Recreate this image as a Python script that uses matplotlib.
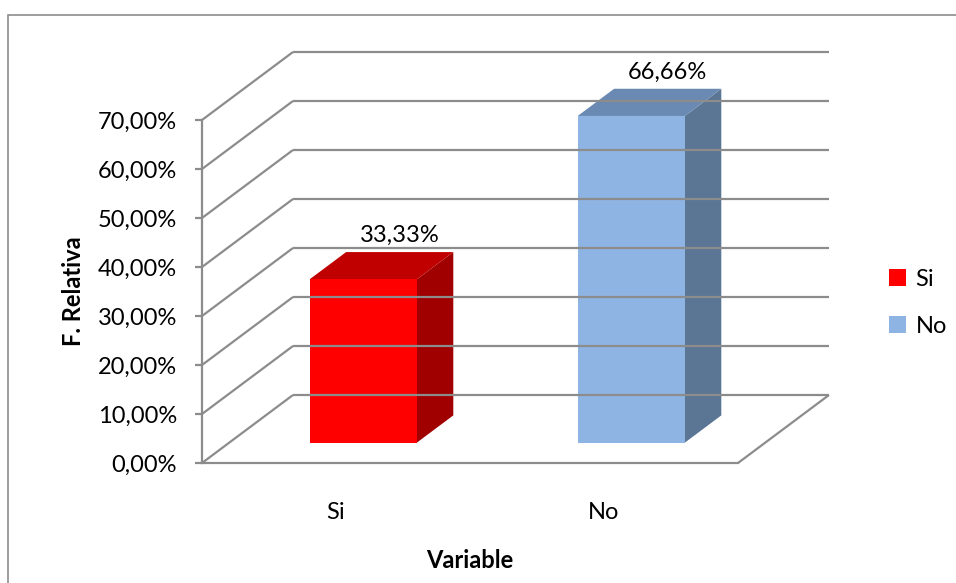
import matplotlib
matplotlib.use('Agg')
import matplotlib.pyplot as plt
from matplotlib.patches import Polygon, Patch, Rectangle

# Data
categories = ['Si', 'No']
values = [0.3333, 0.6666]
value_labels = ['33,33%', '66,66%']
y_ticks = [0.0, 0.1, 0.2, 0.3, 0.4, 0.5, 0.6, 0.7]
y_tick_labels = ['0,00%', '10,00%', '20,00%', '30,00%', '40,00%', '50,00%', '60,00%', '70,00%']

# Styles
front_colors = ['#FF0000', '#8EB4E3']
top_colors = ['#C00000', '#6A8AB3']
side_colors = ['#A00000', '#5B7595']
grid_color = '#8C8C8C'
font = 'Lato'
fs = 17

DPI = 100
W, H = 956, 583
DEPTH_PX = (91, 68)       # wall depth offset in pixels (right, up)
BAR_DEPTH = (0.3, 0.7)    # bar front/back as fraction of wall depth
BAR_WIDTH = 0.4

plt.rcParams['font.family'] = [font, 'DejaVu Sans']

fig = plt.figure(figsize=(W / DPI, H / DPI), dpi=DPI)
ax = fig.add_axes([202 / W, (H - 463) / H, 536 / W, 343 / H])
ax.set_xlim(0, len(categories))
ax.set_ylim(0, 0.7)

# depth offsets converted to data units
px_x = 536 / len(categories)
px_y = 343 / 0.7
ddx = DEPTH_PX[0] / px_x
ddy = DEPTH_PX[1] / px_y


def project(x, v, d):
    return (x + d * ddx, v + d * ddy)


def line(p0, p1, **kw):
    ax.plot([p0[0], p1[0]], [p0[1], p1[1]], color=grid_color, lw=1.6,
            solid_capstyle='butt', clip_on=False, **kw)


n = len(categories)
# back wall gridlines and left wall diagonals
for v in y_ticks:
    line(project(0, v, 1), project(n, v, 1))
    line(project(0, v, 0), project(0, v, 1))
# floor right edge
line(project(n, 0, 0), project(n, 0, 1))

# bars
for i, (cat, val) in enumerate(zip(categories, values)):
    x0 = i + 0.5 - BAR_WIDTH / 2
    x1 = i + 0.5 + BAR_WIDTH / 2
    d0, d1 = BAR_DEPTH
    front = [project(x0, 0, d0), project(x1, 0, d0), project(x1, val, d0), project(x0, val, d0)]
    side = [project(x1, 0, d0), project(x1, 0, d1), project(x1, val, d1), project(x1, val, d0)]
    top = [project(x0, val, d0), project(x1, val, d0), project(x1, val, d1), project(x0, val, d1)]
    for pts, col in [(side, side_colors[i]), (top, top_colors[i]), (front, front_colors[i])]:
        ax.add_patch(Polygon(pts, closed=True, facecolor=col, edgecolor='none', clip_on=False))
    lx, ly = project(i + 0.5, val, d1)
    ax.annotate(value_labels[i], (lx, ly), xytext=(0, 12), textcoords='offset points',
                ha='center', va='center', fontsize=fs, color='black', annotation_clip=False)

# axes
for s in ['top', 'right']:
    ax.spines[s].set_visible(False)
for s in ['left', 'bottom']:
    ax.spines[s].set_color(grid_color)
    ax.spines[s].set_linewidth(1.6)
ax.set_yticks(y_ticks)
ax.set_yticklabels(y_tick_labels)
ax.tick_params(axis='y', length=5, width=1.6, color=grid_color, pad=13, labelsize=fs)
ax.set_xticks([i + 0.5 for i in range(n)])
ax.set_xticklabels(categories)
ax.tick_params(axis='x', length=0, pad=28, labelsize=fs)
ax.set_xlabel('Variable', fontsize=fs, fontweight='bold', labelpad=19)
ax.set_ylabel('F. Relativa', fontsize=fs, fontweight='bold', labelpad=9)
ax.patch.set_visible(False)

# legend
handles = [Patch(facecolor=c, edgecolor='none') for c in front_colors]
fig.legend(handles, categories, loc='center left', bbox_to_anchor=(880 / W, 1 - 303 / H),
           frameon=False, fontsize=fs, handlelength=0.7, handleheight=0.7,
           handletextpad=0.4, labelspacing=1.1, borderaxespad=0)

# chart border
fig.patches.append(Rectangle((8 / W, -0.02), 1.1, 1 - 15 / H + 0.02, transform=fig.transFigure,
                             fill=False, edgecolor='#8C8C8C', lw=1.2))

fig.savefig('out.png', dpi=DPI)
